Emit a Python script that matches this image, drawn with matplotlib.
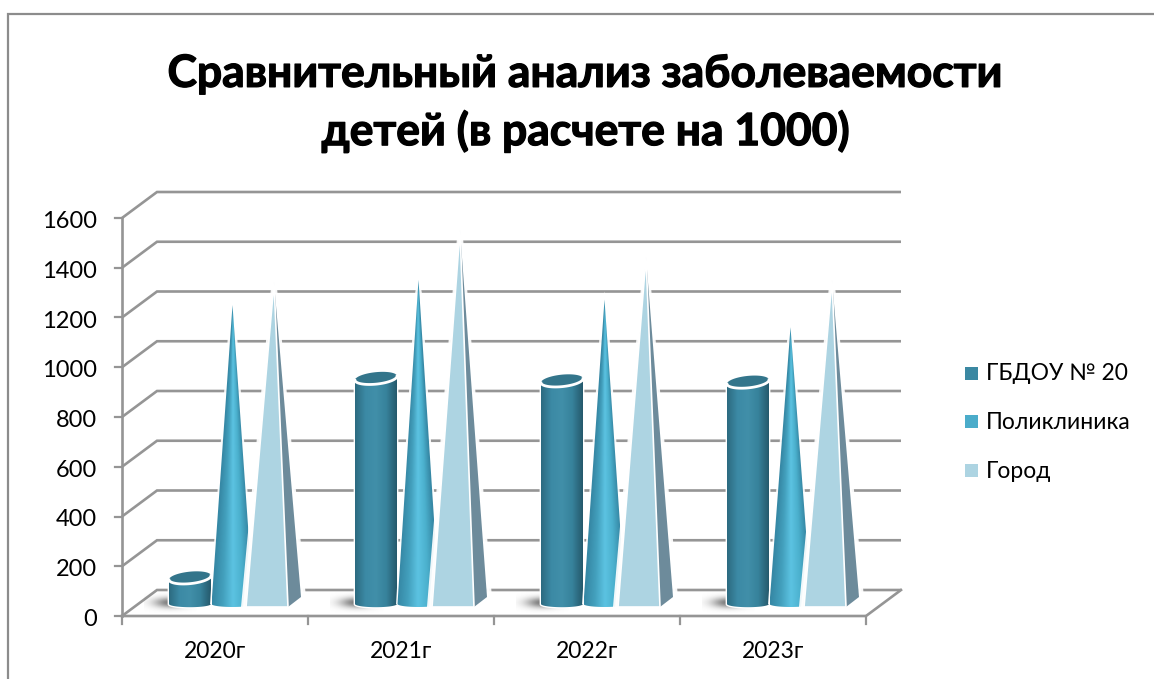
import numpy as np
import matplotlib
matplotlib.use("Agg")
import matplotlib.pyplot as plt
import matplotlib.patheffects as pe
from matplotlib.patches import Polygon, Rectangle
from matplotlib.colors import LinearSegmentedColormap

years = ["2020г", "2021г", "2022г", "2023г"]
series_names = ["ГБДОУ № 20", "Поликлиника", "Город"]
gbdou = [118, 920, 910, 905]
clinic = [1214, 1315, 1236, 1125]
city = [1306, 1515, 1407, 1315]
yticks = [0, 200, 400, 600, 800, 1000, 1200, 1400, 1600]
title_text = "Сравнительный анализ заболеваемости\nдетей (в расчете на 1000)"

plt.rcParams["font.family"] = ["Lato", "Open Sans", "DejaVu Sans"]

W, H = 1154, 679
fig = plt.figure(figsize=(W / 100, H / 100), dpi=100)
ax = fig.add_axes([0, 0, 1, 1])
ax.axis("off")

# axis scale: category 0 at pixel x=122, category 4 at 866; value 0 at pixel y=616, 1600 at 218
PX = 4 / (866 - 122)
PY = 1600 / (616 - 218)
ax.set_xlim(-122 * PX, (W - 122) * PX)
ax.set_ylim(-(H - 616) * PY, 616 * PY)
ax.set_autoscale_on(False)

GRID = "#959595"
dx, dy = 35 * PX, 26 * PY
n = len(years)

# frame of the chart area
ax.add_patch(Rectangle((8 * PX - 122 * PX, -(H - 616) * PY - 20 * PY), (W - 8 + 20) * PX, (H - 14 + 20) * PY,
                       fill=False, ec="#8c8c8c", lw=1.6, zorder=1))

# walls and floor
for v in yticks:
    ax.plot([0, dx, n + dx], [v, v + dy, v + dy], color=GRID, lw=1.9, zorder=2, solid_joinstyle="miter", solid_capstyle="butt")
    ax.plot([-7 * PX, 0], [v, v], color=GRID, lw=1.6, zorder=2)
ax.plot([0, 0], [0, yticks[-1]], color=GRID, lw=1.9, zorder=2)
ax.plot([0, n, n + dx], [0, 0, dy], color=GRID, lw=1.9, zorder=2)
for i in range(n + 1):
    ax.plot([i, i], [0, -8 * PY], color=GRID, lw=1.6, zorder=2)

for v in yticks:
    ax.text(-25 * PX, v - 3.5 * PY, str(v), ha="right", va="center", fontsize=17, color="black", zorder=6)
for i, y in enumerate(years):
    ax.text(i + 0.5, -36 * PY, y, ha="center", va="center", fontsize=16.5, color="black", zorder=6)

base = 9 * PY
round_base = 12 * PY
bw = 42 * PX
t_arc = np.linspace(np.pi, 2 * np.pi, 40)

cyl_cmap = LinearSegmentedColormap.from_list("c", ["#2c6a80", "#3c8aa5", "#418fa9", "#37829b", "#25596c"])
cone_cmap = LinearSegmentedColormap.from_list("k", ["#3688a5", "#43a0bd", "#5cc3e2", "#4bb0cd", "#3688a5"])


def clipped_image(img, path_xy, x0, x1, y0, y1, z, **kw):
    im = ax.imshow(img, extent=[x0, x1, y0, y1], aspect="auto", zorder=z, interpolation="bilinear", origin="lower", **kw)
    clip = Polygon(path_xy, closed=True, transform=ax.transData, fc="none", ec="none")
    ax.add_patch(clip)
    im.set_clip_path(clip)


shadow = np.zeros((60, 120, 4))
yy, xx = np.mgrid[-1:1:60j, -1:1:120j]
shadow[..., :3] = 0.42
shadow[..., 3] = 0.9 * np.exp(-(xx / 0.62) ** 2 - (yy / 0.5) ** 2)

for i in range(n):
    z = 3 + i * 0.01
    # cylinder
    x0 = i + 47 * PX
    cx = x0 + bw / 2
    ax.imshow(shadow, extent=[x0 - 25 * PX, x0 + 28 * PX, round_base - 9 * PY, round_base + 12 * PY], aspect="auto", zorder=z)
    top = base + gbdou[i]
    arc_x = cx + bw / 2 * np.cos(t_arc)
    arc_y = 3.2 * PY * np.sin(t_arc)
    body = np.column_stack([np.r_[arc_x, arc_x[::-1]], np.r_[round_base + arc_y, top + arc_y[::-1]]])
    ax.add_patch(Polygon(body, closed=True, fc="none", ec="white", lw=2, zorder=z + 0.01))
    clipped_image(np.linspace(0, 1, 128)[None, :], body, x0, x0 + bw, round_base - 5 * PY, top + 8 * PY, z + 0.02, cmap=cyl_cmap)
    t_full = np.linspace(0, 2 * np.pi, 80)
    ell_x = cx + bw / 2 * np.cos(t_full)
    ell_y = top + 6 * PY * np.sin(t_full) + 2.0 * PY * np.cos(t_full)
    ax.add_patch(Polygon(np.column_stack([ell_x, ell_y]), closed=True, fc="#33758b", ec="none", zorder=z + 0.03))
    rim = t_full[(t_full > np.pi)]
    ax.plot(cx + bw / 2 * np.cos(rim), top + 6 * PY * np.sin(rim) + 2.0 * PY * np.cos(rim),
            color="white", lw=2.0, zorder=z + 0.04)

    # cone
    x0 = i + 89 * PX
    cx = x0 + bw / 2 + 0.5 * PX
    top = base + clinic[i]
    arc_x = cx + bw / 2 * np.cos(t_arc)
    arc_y = 3.0 * PY * np.sin(t_arc)
    body = np.column_stack([np.r_[arc_x, cx], np.r_[round_base + arc_y, top]])
    halo = np.vstack([[arc_x[0] - 1.5 * PX, round_base], np.column_stack([arc_x, round_base + arc_y - 1 * PY]),
                      [arc_x[-1] + 1.5 * PX, round_base], [cx + 3.5 * PX, top - 14 * PY], [cx, top + 8 * PY],
                      [cx - 3.5 * PX, top - 14 * PY]])
    ax.add_patch(Polygon(halo, closed=True, fc="white", ec="none", alpha=0.9, zorder=z + 0.1))
    # shading follows the taper of the cone; the image reaches below the curved base
    y_low = round_base - 5 * PY
    rows = np.linspace(0, 1, 200)
    cols = np.linspace(-1, 1, 128)
    taper = np.clip(1 - rows, 0.02, 1)[:, None]
    u = np.clip(0.5 + cols[None, :] / (2 * taper), 0, 1)
    clipped_image(cone_cmap(u), body, x0 + 0.5 * PX, x0 + 0.5 * PX + bw, y_low, top, z + 0.12)

    # pyramid
    x0 = i + 124 * PX
    x1 = x0 + bw
    apex_x = x0 + bw / 2 + 7 * PX
    top = base + city[i]
    back_x, back_y = x1 + 13 * PX, base + 10 * PY
    ax.add_patch(Polygon([[x0 - 3 * PX, base - 1 * PY], [apex_x, top + 4 * PY], [back_x + 3 * PX, back_y - 2 * PY],
                          [x1, base - 2 * PY]], closed=True, fc="white", ec="white", lw=3, alpha=0.92, joinstyle="miter",
                         zorder=z + 0.2))
    ax.add_patch(Polygon([[x1, base], [back_x, back_y], [apex_x, top]], closed=True, fc="#6d8b9b", ec="none", zorder=z + 0.21))
    ax.add_patch(Polygon([[x0, base], [x1, base], [apex_x, top]], closed=True, fc="#add4e2", ec="white", lw=1.2,
                         joinstyle="round", zorder=z + 0.22))

# legend
legend_colors = ["#3b88a2", "#4bacca", "#add4e2"]
for k, (name, col) in enumerate(zip(series_names, legend_colors)):
    ly = 616 - (373 + 48.5 * k)
    lx = (965 - 122) * PX
    ax.add_patch(Rectangle((lx, (ly - 6.5) * PY), 13 * PX, 13 * PY, fc=col, ec="none", zorder=6))
    ax.text((986 - 122) * PX, (ly - 1) * PY, name, ha="left", va="center", fontsize=16.5, color="black", zorder=6)

title = ax.text((586 - 122) * PX, (616 - 103) * PY, title_text, ha="center", va="center", fontsize=32, fontweight="bold",
                color="black", linespacing=1.48, zorder=6)
title.set_path_effects([pe.withStroke(linewidth=0.9, foreground="black")])

fig.savefig("out.png", dpi=100)
